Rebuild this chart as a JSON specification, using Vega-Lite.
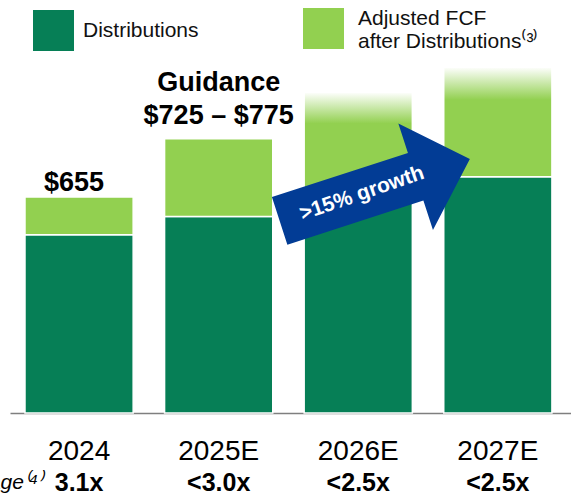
{
  "$schema": "https://vega.github.io/schema/vega-lite/v6.json",
  "width": 561,
  "height": 353,
  "autosize": {"type": "none"},
  "padding": {"left": 10, "top": 60, "right": 0, "bottom": 85},
  "background": "white",
  "config": {"view": {"stroke": null}, "font": "Liberation Sans"},
  "datasets": {
    "bars": [
      {"year": "2024", "series": "Distributions", "value": 540},
      {"year": "2024", "series": "Adjusted FCF after Distributions", "value": 115},
      {"year": "2025E", "series": "Distributions", "value": 596},
      {"year": "2025E", "series": "Adjusted FCF after Distributions", "value": 235},
      {"year": "2026E", "series": "Distributions", "value": 655},
      {"year": "2026E", "series": "Adjusted FCF after Distributions", "value": 318},
      {"year": "2027E", "series": "Distributions", "value": 716},
      {"year": "2027E", "series": "Adjusted FCF after Distributions", "value": 333}
    ],
    "years": [
      {"year": "2024", "total": 655, "label": "$655", "leverage": "3.1x"},
      {"year": "2025E", "total": 831, "label": ["Guidance", "$725 – $775"], "leverage": "<3.0x"},
      {"year": "2026E", "total": 973, "label": "", "leverage": "<2.5x", "note": ">15% growth"},
      {"year": "2027E", "total": 1049, "label": "", "leverage": "<2.5x"}
    ]
  },
  "layer": [
    {
      "data": {"name": "bars"},
      "transform": [
        {"stack": "value", "groupby": ["year"], "sort": [{"field": "series", "order": "descending"}], "as": ["v0", "v1"]},
        {"filter": "datum.series == 'Distributions'"}
      ],
      "mark": {"type": "bar", "stroke": "white", "strokeWidth": 1.5},
      "encoding": {
        "x": {
          "field": "year", "type": "nominal",
          "scale": {"domain": ["2024", "2025E", "2026E", "2027E"], "paddingInner": 0.225, "paddingOuter": 0.122, "align": 0.44},
          "axis": {"title": null, "domainColor": "#7f7f7f", "domainWidth": 1.5, "ticks": false, "tickSize": 0, "labelFontSize": 28, "labelColor": "black", "labelPadding": 24, "labelFont": "Liberation Sans", "labelAngle": 0}
        },
        "y": {"field": "v1", "type": "quantitative", "scale": {"domain": [0, 1070], "nice": false}, "axis": null},
        "y2": {"field": "v0"},
        "color": {
          "field": "series", "type": "nominal",
          "scale": {"domain": ["Distributions"], "range": ["#067F56"]},
          "legend": {
            "title": null, "orient": "none", "legendX": 23, "legendY": -50, "direction": "horizontal",
            "symbolType": "square", "symbolSize": 1681, "symbolStrokeWidth": 0, "symbolOpacity": 1,
            "labelFontSize": 21, "labelColor": "#111111", "labelFont": "Liberation Sans", "labelOffset": 9,
            "labelLimit": 400, "labelBaseline": "middle", "padding": 0
          }
        }
      }
    },
    {
      "data": {"name": "bars"},
      "transform": [
        {"stack": "value", "groupby": ["year"], "sort": [{"field": "series", "order": "descending"}], "as": ["v0", "v1"]},
        {"filter": "datum.series != 'Distributions'"}
      ],
      "mark": {"type": "bar", "stroke": "white", "strokeWidth": 1.5},
      "encoding": {
        "x": {"field": "year", "type": "nominal"},
        "y": {"field": "v1", "type": "quantitative"},
        "y2": {"field": "v0"},
        "fill": {
          "condition": {
            "test": "datum.year == '2026E' || datum.year == '2027E'",
            "value": {"gradient": "linear", "x1": 0, "y1": 1, "x2": 0, "y2": 0, "stops": [{"offset": 0, "color": "#92D050"}, {"offset": 0.7, "color": "#92D050"}, {"offset": 1, "color": "#ffffff"}]}
          },
          "field": "series", "type": "nominal",
          "scale": {"domain": ["Adjusted FCF after Distributions"], "range": ["#92D050"]},
          "legend": {
            "title": null, "orient": "none", "legendX": 293, "legendY": -52, "direction": "horizontal",
            "symbolType": "square", "symbolSize": 1681, "symbolStrokeWidth": 0, "symbolOpacity": 1,
            "labelFontSize": 21, "labelColor": "#111111", "labelFont": "Liberation Sans", "labelOffset": 14,
            "labelLimit": 400, "labelBaseline": "bottom", "padding": 0,
            "labelExpr": "['Adjusted FCF', 'after Distributions⁽³⁾']"
          }
        }
      }
    },
    {
      "data": {"name": "years"},
      "transform": [{"filter": "datum.year == '2024'"}],
      "mark": {"type": "text", "fontSize": 27, "fontWeight": "bold", "dx": -5, "dy": -6, "baseline": "alphabetic", "color": "black"},
      "encoding": {
        "x": {"field": "year", "type": "nominal"},
        "y": {"field": "total", "type": "quantitative"},
        "text": {"field": "label"}
      }
    },
    {
      "data": {"name": "years"},
      "transform": [{"filter": "datum.year == '2025E'"}],
      "mark": {"type": "text", "fontSize": 27, "fontWeight": "bold", "dy": -48, "baseline": "alphabetic", "lineHeight": 33.5, "color": "black"},
      "encoding": {
        "x": {"field": "year", "type": "nominal"},
        "y": {"field": "total", "type": "quantitative"},
        "text": {"field": "label"}
      }
    },
    {
      "data": {"name": "years"},
      "transform": [{"filter": "datum.year == '2026E'"}],
      "mark": {"type": "point", "shape": "M-0.843,-0.199L0.587,-0.199L0.587,-0.509L1.157,0.051L0.587,0.611L0.587,0.301L-0.843,0.301Z", "size": 40000, "angle": 342, "filled": true, "color": "#023C95", "opacity": 1, "strokeWidth": 0},
      "encoding": {
        "x": {"field": "year", "type": "nominal"},
        "y": {"datum": 676, "type": "quantitative"}
      }
    },
    {
      "data": {"name": "years"},
      "transform": [{"filter": "datum.year == '2026E'"}],
      "mark": {"type": "text", "fontSize": 21, "fontWeight": "bold", "angle": 341, "dx": 4, "baseline": "middle", "align": "center", "color": "white"},
      "encoding": {
        "x": {"field": "year", "type": "nominal"},
        "y": {"datum": 661, "type": "quantitative"},
        "text": {"field": "note"}
      }
    },
    {
      "data": {"name": "years"},
      "mark": {"type": "text", "fontSize": 25, "fontWeight": "bold", "dy": 78, "baseline": "alphabetic", "color": "black"},
      "encoding": {
        "x": {"field": "year", "type": "nominal"},
        "y": {"datum": 0, "type": "quantitative"},
        "text": {"field": "leverage"}
      }
    },
    {
      "data": {"name": "years"},
      "transform": [{"filter": "datum.year == '2024'"}],
      "mark": {"type": "text", "fontSize": 21, "fontStyle": "italic", "dx": -36, "dy": 76, "align": "right", "baseline": "alphabetic", "color": "black"},
      "encoding": {
        "x": {"field": "year", "type": "nominal"},
        "y": {"datum": 0, "type": "quantitative"},
        "text": {"value": "Leverage⁽⁴⁾"}
      }
    }
  ]
}
